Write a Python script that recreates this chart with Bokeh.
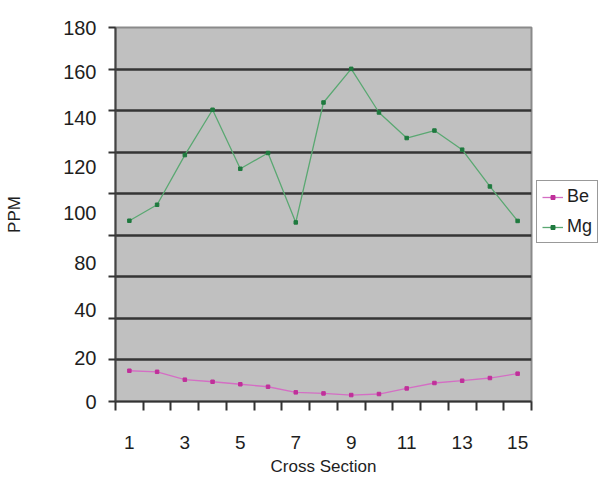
from bokeh.plotting import figure
from bokeh.models import FixedTicker, Range1d, Legend, LegendItem
from bokeh.layouts import row
from bokeh.embed import file_html
from bokeh.resources import INLINE

# ---- data ----
sections = list(range(1, 16))
be = [14.8, 14.3, 10.5, 9.5, 8.3, 7.1, 4.4, 3.9, 3.1, 3.6, 6.3, 8.9, 10.0, 11.3, 13.4]
mg = [87.0, 94.7, 118.6, 140.4, 112.0, 119.6, 86.2, 143.9, 160.1, 139.1, 126.8, 130.4, 121.2, 103.5, 86.9]

grid_values = [0, 20, 40, 60, 80, 100, 120, 140, 160, 180]
# tick labels as printed on the chart (they drift off the gridlines)
y_label_text = ["0", "20", "40", "80", "100", "120", "140", "160", "180"]
y_label_pos = [0, 21.1, 44.2, 66.7, 90.7, 112.8, 136.3, 158.4, 180]
x_label_values = [1, 3, 5, 7, 9, 11, 13, 15]
x_tick_bounds = [i + 0.5 for i in range(0, 16)]
series_names = ["Be", "Mg"]

FONT = "Liberation Sans"
TXT = "#1e1e1e"
BE_LINE, BE_PT = "#d46ec4", "#c0309a"
MG_LINE, MG_PT = "#5aa872", "#1f7a3f"

p = figure(width=533, height=478, output_backend="svg", toolbar_location=None,
           x_range=Range1d(0.5, 15.5), y_range=Range1d(0, 180),
           min_border_left=115, min_border_right=2, min_border_top=27, min_border_bottom=76)

p.background_fill_color = "#c0c0c0"
p.border_fill_color = "white"
p.outline_line_color = "#8a8a8a"
p.outline_line_width = 2

# grid
p.xgrid.visible = False
p.ygrid.ticker = FixedTicker(ticks=grid_values[1:])
p.ygrid.grid_line_color = "#353535"
p.ygrid.grid_line_width = 2.5

# y axis
ya = p.yaxis[0]
ya.ticker = FixedTicker(ticks=y_label_pos, minor_ticks=grid_values)
ya.major_label_overrides = {pos: t for pos, t in zip(y_label_pos, y_label_text)}
ya.major_tick_out = 0
ya.major_tick_in = 0
ya.minor_tick_out = 7
ya.minor_tick_in = 0
ya.minor_tick_line_color = "#333333"
ya.minor_tick_line_width = 2
ya.axis_line_color = "#444444"
ya.axis_line_width = 2
ya.major_label_standoff = 12
ya.major_label_text_font = FONT
ya.major_label_text_font_size = "20px"
ya.major_label_text_color = TXT
ya.axis_label = "PPM"
ya.axis_label_text_font = FONT
ya.axis_label_text_font_size = "17px"
ya.axis_label_text_font_style = "normal"
ya.axis_label_text_color = TXT
ya.axis_label_standoff = 36

# x axis
xa = p.xaxis[0]
xa.ticker = FixedTicker(ticks=x_label_values, minor_ticks=x_tick_bounds)
xa.major_tick_out = 0
xa.major_tick_in = 0
xa.minor_tick_out = 9
xa.minor_tick_in = 0
xa.minor_tick_line_color = "#333333"
xa.minor_tick_line_width = 2
xa.axis_line_color = "#333333"
xa.axis_line_width = 2
xa.major_label_standoff = 25
xa.major_label_text_font = FONT
xa.major_label_text_font_size = "19px"
xa.major_label_text_color = TXT
xa.axis_label = "Cross Section"
xa.axis_label_text_font = FONT
xa.axis_label_text_font_size = "17px"
xa.axis_label_text_font_style = "normal"
xa.axis_label_text_color = TXT
xa.axis_label_standoff = 5

# series
p.line(sections, be, line_color=BE_LINE, line_width=1.3)
p.scatter(sections, be, marker="square", size=3.5, fill_color=BE_PT, line_color=BE_PT)
p.line(sections, mg, line_color=MG_LINE, line_width=1.3)
p.scatter(sections, mg, marker="square", size=3.5, fill_color=MG_PT, line_color=MG_PT)

# legend lives in a narrow side figure (its sample glyphs sit outside its visible range)
q = figure(width=67, height=478, output_backend="svg", toolbar_location=None,
           min_border=0, min_border_left=0, min_border_right=0, min_border_top=0, min_border_bottom=0,
           x_range=Range1d(0, 1), y_range=Range1d(0, 1))
q.axis.visible = False
q.grid.visible = False
q.outline_line_color = None
q.background_fill_color = "white"
q.border_fill_color = "white"

hidden = [5, 6]
items = []
for name, lc, pc in [(series_names[0], BE_LINE, BE_PT), (series_names[1], MG_LINE, MG_PT)]:
    r1 = q.line(hidden, hidden, line_color=lc, line_width=1.3)
    r2 = q.scatter(hidden, hidden, marker="square", size=3.5, fill_color=pc, line_color=pc)
    items.append(LegendItem(label=name, renderers=[r1, r2]))

legend = Legend(items=items, location=(3, 158))
legend.border_line_color = "#333333"
legend.border_line_width = 1.5
legend.background_fill_color = "white"
legend.background_fill_alpha = 1
legend.label_text_font = FONT
legend.label_text_font_size = "18px"
legend.label_text_color = TXT
legend.glyph_width = 21
legend.glyph_height = 10
legend.label_height = 20
legend.spacing = 9
legend.padding = 5
legend.label_standoff = 4
legend.margin = 0
q.add_layout(legend, "center")

layout = row(p, q)
open("out.html", "w").write(file_html(layout, INLINE))
